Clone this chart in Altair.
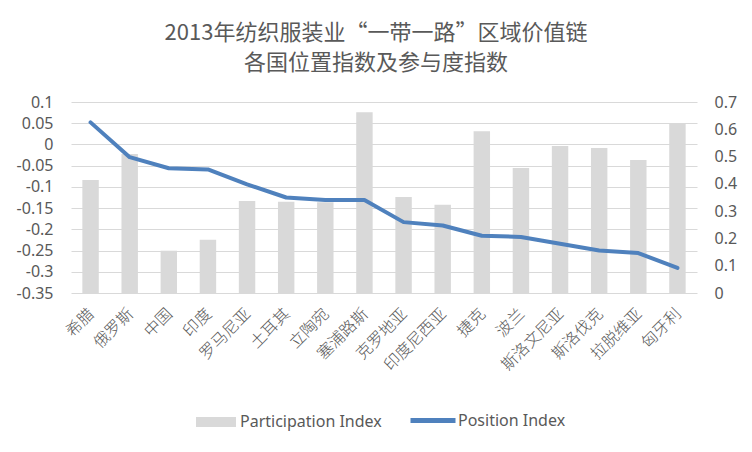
import altair as alt
import pandas as pd

countries = ["希腊", "俄罗斯", "中国", "印度", "罗马尼亚", "土耳其", "立陶宛", "塞浦路斯",
             "克罗地亚", "印度尼西亚", "捷克", "波兰", "斯洛文尼亚", "斯洛伐克", "拉脱维亚", "匈牙利"]
participation = [0.414, 0.509, 0.155, 0.195, 0.337, 0.334, 0.333, 0.662,
                 0.352, 0.323, 0.593, 0.458, 0.539, 0.531, 0.487, 0.623]
position = [0.052, -0.030, -0.056, -0.059, -0.094, -0.125, -0.131, -0.131,
            -0.183, -0.191, -0.215, -0.218, -0.234, -0.250, -0.256, -0.291]
left_ticks = [0.1, 0.05, 0, -0.05, -0.1, -0.15, -0.2, -0.25, -0.3, -0.35]
right_ticks = [0, 0.1, 0.2, 0.3, 0.4, 0.5, 0.6, 0.7]
title_lines = ["2013年纺织服装业“一带一路”区域价值链", "各国位置指数及参与度指数"]

df = pd.DataFrame({
    "country": countries,
    "participation": participation,
    "position": position,
    "s1": "Participation Index",
    "s2": "Position Index",
})

GRAY = "#D9D9D9"
BLUE = "#4F81BD"
TXT = "#595959"
FONT = "Noto Sans"
CJK = "Noto Sans CJK SC"

x = alt.X("country:N", sort=countries, title=None,
          scale=alt.Scale(paddingInner=0.58, paddingOuter=0.29),
          axis=alt.Axis(labelAngle=-45, labelFont=CJK, labelFontSize=16, labelColor=TXT,
                        labelAlign="right", labelBaseline="middle",
                        labelPadding=18, labelOffset=1, domain=False, ticks=False,
                        labelFontWeight=300, labelOverlap=False))

bars = alt.Chart(df).mark_bar(color=GRAY).encode(
    x=x,
    y=alt.Y("participation:Q", title=None,
            scale=alt.Scale(domain=[0, 0.7], nice=False),
            axis=alt.Axis(orient="right", values=right_ticks, grid=False, domain=False, ticks=False,
                          labelExpr="replace(format(datum.value, '.1~f'), '\u2212', '-')",
                          labelFont=FONT, labelFontSize=16, labelColor=TXT, labelPadding=17)),
    fill=alt.Fill("s1:N", scale=alt.Scale(range=[GRAY]),
                  legend=alt.Legend(title=None, orient="none", legendX=125, legendY=300,
                                    symbolType="M-1,-0.25H1V0.25H-1Z", symbolSize=1600,
                                    symbolStrokeWidth=0, labelFont=FONT, labelFontSize=16,
                                    labelColor=TXT, labelOffset=4, padding=0)),
)

line = alt.Chart(df).mark_line(color=BLUE, strokeWidth=4, strokeCap="round", strokeJoin="round").encode(
    x=x,
    y=alt.Y("position:Q", title=None,
            scale=alt.Scale(domain=[-0.35, 0.1], nice=False),
            axis=alt.Axis(orient="left", values=left_ticks, grid=True, gridColor=GRAY, gridWidth=1,
                          domain=False, ticks=False,
                          labelExpr="replace(format(datum.value, '.2~f'), '\u2212', '-')",
                          labelFont=FONT, labelFontSize=16, labelColor=TXT, labelPadding=18)),
    stroke=alt.Stroke("s2:N", scale=alt.Scale(range=[BLUE]),
                      legend=alt.Legend(title=None, orient="none", legendX=337, legendY=293.5,
                                        symbolType="M-1,0H1", symbolSize=2025,
                                        symbolStrokeWidth=5, labelFont=FONT, labelFontSize=16,
                                        labelColor=TXT, labelOffset=0, padding=0)),
)

chart = alt.layer(bars, line).resolve_scale(y="independent").properties(
    width=626,
    height=191,
    autosize=alt.AutoSizeParams(type="none"),
    padding={"left": 63, "top": 94, "right": 47, "bottom": 151},
    title=alt.TitleParams(text=title_lines, font=CJK, fontSize=22, fontWeight="normal",
                          color=TXT, lineHeight=30, anchor="middle", dx=-8, offset=19),
).configure_view(stroke=None)

chart.save("out.html", embed_options={"renderer": "svg", "actions": False})
